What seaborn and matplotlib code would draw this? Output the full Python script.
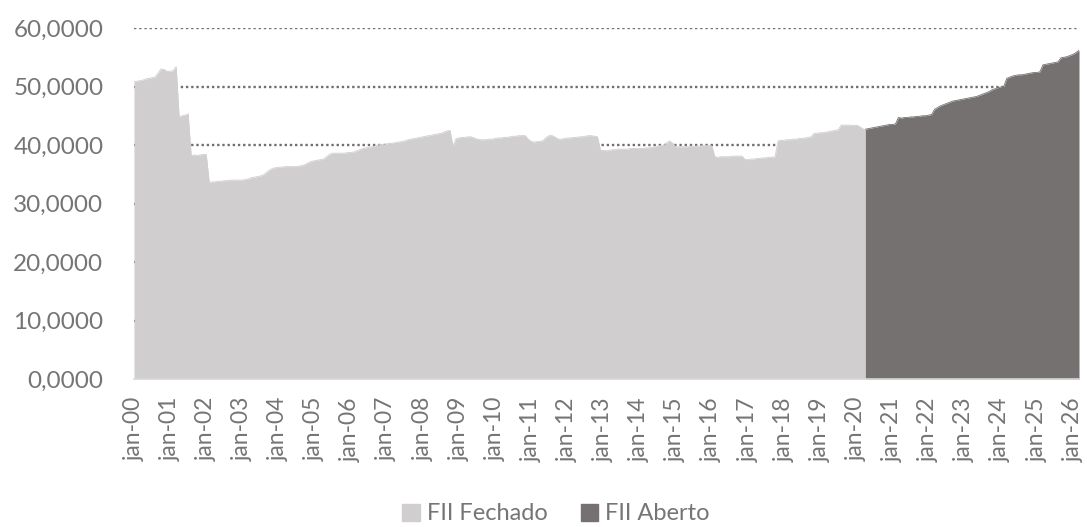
import numpy as np
import pandas as pd
import seaborn as sns
import matplotlib.pyplot as plt
from matplotlib.patches import Patch
from matplotlib.ticker import FuncFormatter

# DATA - monthly values, jan-2000 .. apr-2020 (FII Fechado)
fechado = [
    50.8, 50.9, 51.0, 51.1, 51.3, 51.4, 51.5, 51.6, 52.3, 53.0, 52.9, 52.6,  # 2000
    52.6, 52.7, 53.4, 44.8, 45.0, 45.1, 45.3, 38.2, 38.3, 38.2, 38.3, 38.4,  # 2001
    38.4, 33.6, 33.7, 33.7, 33.8, 33.8, 33.9, 33.9, 34.0, 34.0, 34.0, 34.0,  # 2002
    34.0, 34.1, 34.2, 34.4, 34.5, 34.6, 34.7, 34.9, 35.3, 35.7, 36.0, 36.1,  # 2003
    36.2, 36.2, 36.3, 36.3, 36.3, 36.3, 36.3, 36.4, 36.5, 36.7, 37.0, 37.2,  # 2004
    37.3, 37.4, 37.5, 37.6, 38.0, 38.4, 38.6, 38.6, 38.6, 38.6, 38.6, 38.7,  # 2005
    38.7, 38.8, 39.0, 39.2, 39.4, 39.5, 39.6, 39.7, 39.8, 40.0, 40.1, 40.1,  # 2006
    40.2, 40.3, 40.3, 40.4, 40.5, 40.6, 40.7, 40.9, 41.0, 41.1, 41.2, 41.3,  # 2007
    41.4, 41.5, 41.6, 41.7, 41.8, 41.9, 42.0, 42.2, 42.4, 42.5, 39.7, 41.1,  # 2008
    41.2, 41.3, 41.3, 41.4, 41.4, 41.2, 41.0, 40.9, 40.9, 40.9, 41.0, 41.0,  # 2009
    41.1, 41.2, 41.2, 41.3, 41.3, 41.4, 41.5, 41.5, 41.6, 41.6, 41.6, 41.0,  # 2010
    40.6, 40.5, 40.6, 40.6, 40.8, 41.3, 41.6, 41.6, 41.3, 41.0, 41.0, 41.1,  # 2011
    41.2, 41.2, 41.3, 41.3, 41.4, 41.4, 41.5, 41.6, 41.6, 41.5, 41.4, 39.1,  # 2012
    39.1, 39.0, 39.1, 39.2, 39.2, 39.3, 39.3, 39.3, 39.3, 39.4, 39.4, 39.4,  # 2013
    39.4, 39.4, 39.5, 39.5, 39.6, 39.7, 39.8, 39.9, 40.0, 40.4, 40.7, 40.3,  # 2014
    39.7, 39.7, 39.7, 39.7, 39.7, 39.8, 39.8, 39.8, 39.8, 39.9, 39.9, 39.9,  # 2015
    39.8, 38.0, 37.9, 38.0, 38.0, 38.0, 38.0, 38.1, 38.1, 38.1, 38.1, 37.5,  # 2016
    37.5, 37.6, 37.6, 37.7, 37.7, 37.8, 37.8, 37.9, 37.9, 38.0, 40.7, 40.8,  # 2017
    40.8, 40.9, 40.9, 41.0, 41.0, 41.1, 41.1, 41.2, 41.3, 41.4, 42.0, 42.0,  # 2018
    42.1, 42.1, 42.2, 42.3, 42.4, 42.5, 42.6, 43.4, 43.4, 43.4, 43.4, 43.3,  # 2019
    43.4, 43.2, 42.8, 42.6,                                                  # 2020
]

# monthly values, apr-2020 .. mar-2026 (FII Aberto)
aberto = [
    42.7, 42.8, 42.9, 43.0, 43.1, 43.2, 43.3, 43.4, 43.5,                    # 2020
    43.5, 43.6, 44.7, 44.6, 44.7, 44.7, 44.8, 44.8, 44.9, 44.9, 45.0, 45.0,  # 2021
    45.1, 45.2, 46.1, 46.4, 46.7, 46.9, 47.1, 47.3, 47.5, 47.6, 47.7, 47.8,  # 2022
    47.9, 48.0, 48.1, 48.2, 48.3, 48.5, 48.7, 48.9, 49.1, 49.4, 49.6, 49.8,  # 2023
    49.9, 50.0, 51.4, 51.6, 51.8, 51.9, 52.0, 52.0, 52.1, 52.2, 52.3, 52.4,  # 2024
    52.4, 52.5, 53.7, 53.8, 53.9, 54.0, 54.1, 54.2, 54.9, 55.0, 55.1, 55.3,  # 2025
    55.5, 55.8, 56.2,                                                        # 2026
]

tick_labels = ['jan-%02d' % y for y in range(0, 27)]
legend_labels = ['FII Fechado', 'FII Aberto']

c_fechado = '#d0cece'
c_aberto = '#767171'
c_text = '#757575'

df_f = pd.DataFrame({'mes': np.arange(len(fechado)), 'valor': fechado})
start_ab = len(fechado) - 1
df_a = pd.DataFrame({'mes': np.arange(start_ab, start_ab + len(aberto)), 'valor': aberto})

sns.set_theme(style='white')
plt.rcParams['font.family'] = ['Lato', 'DejaVu Sans']

fig = plt.figure(figsize=(10.87, 5.27), dpi=100)
ax = fig.add_axes([134 / 1087, 148 / 527, 945 / 1087, 351 / 527])

# dotted gridlines behind the areas
for v in range(10, 70, 10):
    ax.axhline(v, color='#6f6f6f', lw=1.7, ls=(0, (1, 1.2)), zorder=0)

ax.fill_between(df_f['mes'], 0, df_f['valor'], color=c_fechado, lw=0, zorder=2)
ax.fill_between(df_a['mes'], 0, df_a['valor'], color=c_aberto, lw=0, zorder=2)
sns.lineplot(data=df_f, x='mes', y='valor', color=c_fechado, lw=0.6, ax=ax, zorder=2)
sns.lineplot(data=df_a, x='mes', y='valor', color=c_aberto, lw=0.6, ax=ax, zorder=2)

ax.set_xlim(0, start_ab + len(aberto) - 1)
ax.set_ylim(0, 60)
ax.set_xlabel('')
ax.set_ylabel('')

ax.set_xticks(np.arange(0, 12 * len(tick_labels), 12))
ax.set_xticklabels(tick_labels, rotation=90, color=c_text, fontsize=16.5)
ax.set_yticks(range(0, 70, 10))
ax.yaxis.set_major_formatter(FuncFormatter(lambda v, p: ('%.4f' % v).replace('.', ',')))
ax.tick_params(axis='y', labelsize=17.5, colors=c_text, length=0, pad=22)
ax.tick_params(axis='x', length=8, width=1.2, color='#d9d9d9', pad=5)

for s in ['left', 'right', 'top']:
    ax.spines[s].set_visible(False)
ax.spines['bottom'].set_color('#d9d9d9')
ax.spines['bottom'].set_linewidth(1.2)
ax.spines['bottom'].set_zorder(3)

handles = [Patch(color=c_fechado), Patch(color=c_aberto)]
fig.legend(handles, legend_labels, loc='center', bbox_to_anchor=(556 / 1087, 1 - 514 / 527),
           ncol=2, frameon=False, fontsize=17, labelcolor=c_text,
           handlelength=0.75, handleheight=0.75, handletextpad=0.3, columnspacing=1.4)

fig.savefig('out.png', dpi=100)
